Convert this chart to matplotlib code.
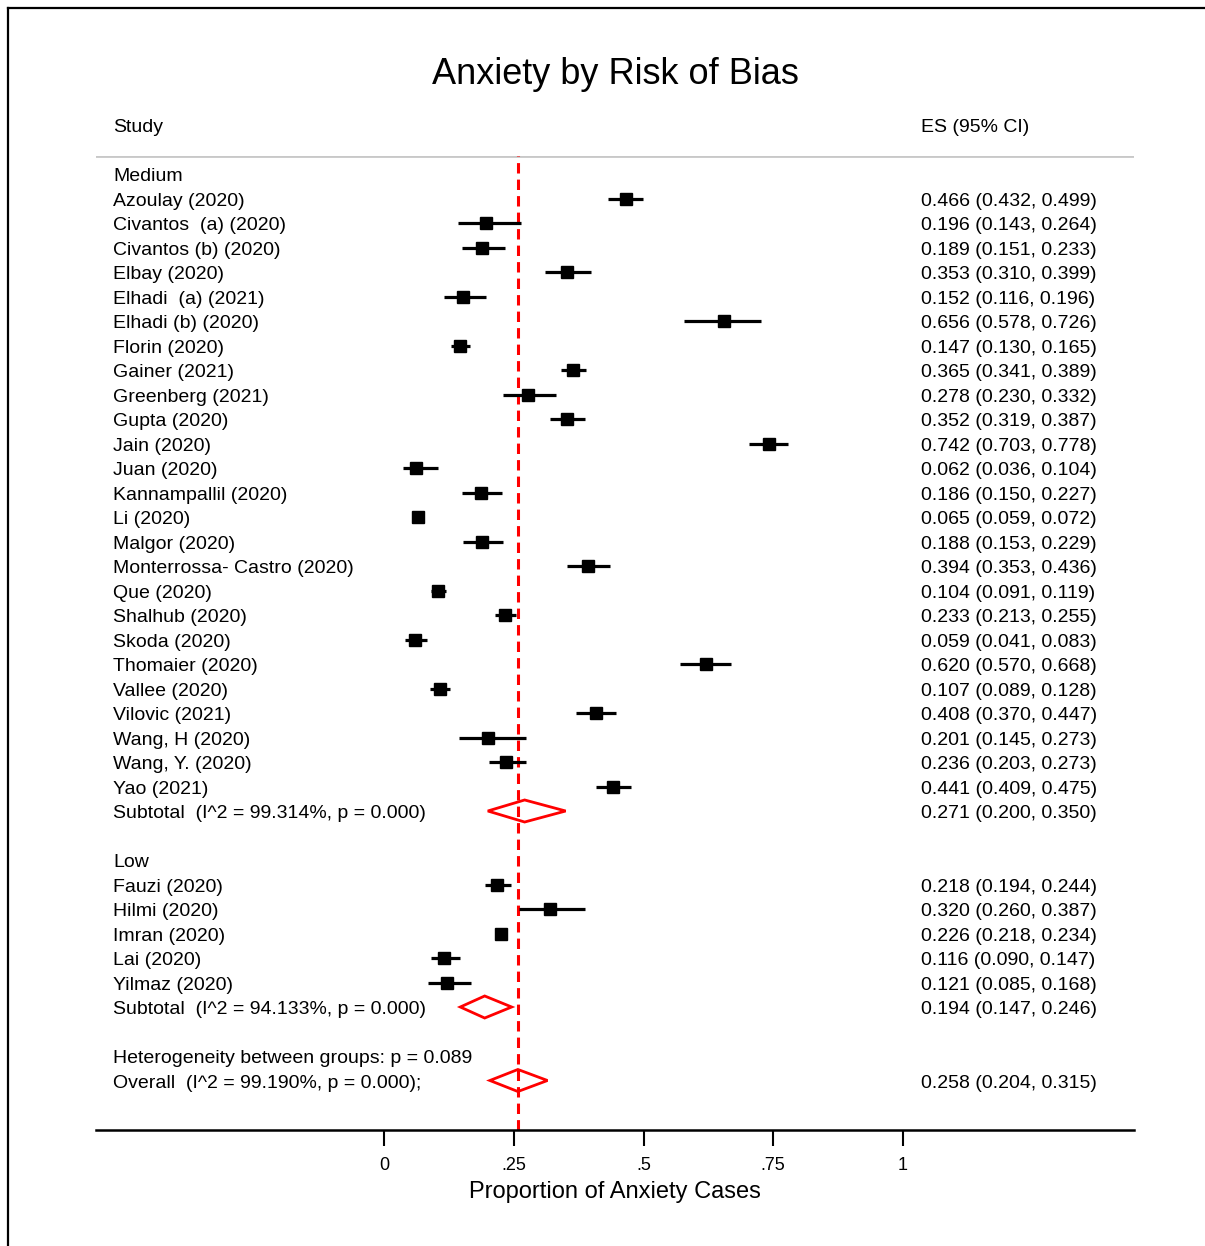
import matplotlib.pyplot as plt
from matplotlib.patches import Polygon
from matplotlib.lines import Line2D
import numpy as np

plt.rcParams['font.family'] = ['Liberation Sans', 'DejaVu Sans']

#################   data   #################

medium_names = ["Azoulay (2020)", "Civantos  (a) (2020)", "Civantos (b) (2020)", "Elbay (2020)",
                "Elhadi  (a) (2021)", "Elhadi (b) (2020)", "Florin (2020)", "Gainer (2021)",
                "Greenberg (2021)", "Gupta (2020)", "Jain (2020)", "Juan (2020)",
                "Kannampallil (2020)", "Li (2020)", "Malgor (2020)", "Monterrossa- Castro (2020)",
                "Que (2020)", "Shalhub (2020)", "Skoda (2020)", "Thomaier (2020)", "Vallee (2020)",
                "Vilovic (2021)", "Wang, H (2020)", "Wang, Y. (2020)", "Yao (2021)"]
medium_es = [0.466, 0.196, 0.189, 0.353, 0.152, 0.656, 0.147, 0.365, 0.278, 0.352, 0.742, 0.062,
             0.186, 0.065, 0.188, 0.394, 0.104, 0.233, 0.059, 0.620, 0.107, 0.408, 0.201, 0.236, 0.441]
medium_lo = [0.432, 0.143, 0.151, 0.310, 0.116, 0.578, 0.130, 0.341, 0.230, 0.319, 0.703, 0.036,
             0.150, 0.059, 0.153, 0.353, 0.091, 0.213, 0.041, 0.570, 0.089, 0.370, 0.145, 0.203, 0.409]
medium_hi = [0.499, 0.264, 0.233, 0.399, 0.196, 0.726, 0.165, 0.389, 0.332, 0.387, 0.778, 0.104,
             0.227, 0.072, 0.229, 0.436, 0.119, 0.255, 0.083, 0.668, 0.128, 0.447, 0.273, 0.273, 0.475]
medium_sub = (0.271, 0.200, 0.350)
medium_het = "Subtotal  (I^2 = 99.314%, p = 0.000)"

low_names = ["Fauzi (2020)", "Hilmi (2020)", "Imran (2020)", "Lai (2020)", "Yilmaz (2020)"]
low_es = [0.218, 0.320, 0.226, 0.116, 0.121]
low_lo = [0.194, 0.260, 0.218, 0.090, 0.085]
low_hi = [0.244, 0.387, 0.234, 0.147, 0.168]
low_sub = (0.194, 0.147, 0.246)
low_het = "Subtotal  (I^2 = 94.133%, p = 0.000)"

overall = (0.258, 0.204, 0.315)
overall_label = "Overall  (I^2 = 99.190%, p = 0.000);"
between_label = "Heterogeneity between groups: p = 0.089"

xticks = [0, 0.25, 0.5, 0.75, 1]
xticklabels = ["0", ".25", ".5", ".75", "1"]

#################   figure   #################

W, H = 1205, 1246
fig = plt.figure(figsize=(W / 100, H / 100), dpi=100)
ax = fig.add_axes([96 / W, 1 - 1130 / H, (1134 - 96) / W, (1130 - 156) / H])

# pixel helpers for layout only
px0, px_per = 384, 519
ax.set_xlim((96 - px0) / px_per, (1134 - px0) / px_per)
row0, row_h = 174, 24.5
ax.set_ylim((1130 - row0) / row_h, (156 - row0) / row_h)

x_name = (113 - px0) / px_per
x_es = (921 - px0) / px_per
dy = 2.5 / row_h  # nudge text down to sit on the row centre
fs = 14


def fmt(es, lo, hi):
    return f"{es:.3f} ({lo:.3f}, {hi:.3f})"


def label(x, y, s):
    ax.text(x, y + dy, s, fontsize=fs, va='center', ha='left')


def diamond(y, es, lo, hi):
    h = 0.45
    ax.add_patch(Polygon([[lo, y], [es, y - h], [hi, y], [es, y + h]], closed=True,
                         fill=False, edgecolor='red', lw=2.0, zorder=4))


def study_rows(start, names, es, lo, hi):
    for i, (n, e, l, u) in enumerate(zip(names, es, lo, hi)):
        y = start + i
        ax.plot([l, u], [y, y], color='black', lw=2.3, solid_capstyle='butt', zorder=3)
        ax.plot(e, y, marker='s', ms=9, color='black', zorder=3)
        label(x_name, y, n)
        label(x_es, y, fmt(e, l, u))


# Medium group
r = 0
label(x_name, r, "Medium")
study_rows(1, medium_names, medium_es, medium_lo, medium_hi)
r = 1 + len(medium_names)
label(x_name, r, medium_het)
label(x_es, r, fmt(*medium_sub))
diamond(r, *medium_sub)

# Low group
r += 2
label(x_name, r, "Low")
study_rows(r + 1, low_names, low_es, low_lo, low_hi)
r = r + 1 + len(low_names)
label(x_name, r, low_het)
label(x_es, r, fmt(*low_sub))
diamond(r, *low_sub)

# Overall
r += 2
label(x_name, r, between_label)
r += 1
label(x_name, r, overall_label)
label(x_es, r, fmt(*overall))
diamond(r, *overall)

# overall line + header rule
ax.axvline(overall[0], color='#ff0000', lw=2.2, dashes=(3.4, 2.0), zorder=2)
ax.axhline(ax.get_ylim()[1], color='#c8c8c8', lw=2, zorder=1)

# headers
label(x_name, (125 - row0) / row_h, "Study")
label(x_es, (125 - row0) / row_h, "ES (95% CI)")

# axis
for s in ['top', 'left', 'right']:
    ax.spines[s].set_visible(False)
ax.spines['bottom'].set_linewidth(1.8)
ax.set_yticks([])
ax.set_xticks(xticks)
ax.set_xticklabels(xticklabels, fontsize=13)
ax.tick_params(axis='x', length=11.5, width=1.5, pad=8)
ax.set_xlabel("Proportion of Anxiety Cases", fontsize=17, labelpad=5)

fig.text(615 / W, 1 - 75 / H, "Anxiety by Risk of Bias", fontsize=26, ha='center', va='center')

# outer frame
fig.add_artist(Line2D([8 / W, 8 / W], [0, 1 - 8 / H], color='black', lw=1.6))
fig.add_artist(Line2D([8 / W, 1], [1 - 8 / H, 1 - 8 / H], color='black', lw=1.6))

fig.savefig("out.png", dpi=100)
